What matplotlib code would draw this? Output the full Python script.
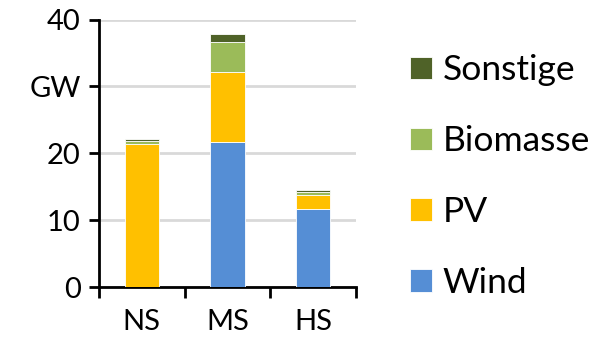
import matplotlib.pyplot as plt
import numpy as np

plt.rcParams["font.family"] = ["Lato", "DejaVu Sans"]

categories = ["NS", "MS", "HS"]
wind = [0.0, 21.75, 11.75]
pv = [21.4, 10.45, 2.0]
biomasse = [0.4, 4.4, 0.4]
sonstige = [0.4, 1.2, 0.4]

series = [
    ("Wind", wind, "#558ED5"),
    ("PV", pv, "#FFC000"),
    ("Biomasse", biomasse, "#9BBB59"),
    ("Sonstige", sonstige, "#4F6228"),
]

yticks = [0, 10, 20, 30, 40]
ytick_labels = ["0", "10", "20", "GW", "40"]

fig = plt.figure(figsize=(6.1, 3.37), dpi=100)
ax = fig.add_axes([0.162, 0.148, 0.422, 0.794])

x = np.arange(len(categories))
bottom = np.zeros(len(categories))
handles = []
for name, vals, color in series:
    bars = ax.bar(x, vals, width=0.4, bottom=bottom, color=color,
                  edgecolor="white", linewidth=0.6, label=name, zorder=3)
    handles.append(bars)
    bottom += np.array(vals)

ax.set_xlim(-0.5, 2.5)
ax.set_ylim(0, 40)
ax.set_yticks(yticks)
ax.set_yticklabels(ytick_labels)
ax.yaxis.grid(True, color="#d9d9d9", linewidth=2, zorder=0)
ax.set_axisbelow(True)

# category labels centred, tick marks on the boundaries
ax.set_xticks(x)
ax.set_xticklabels(categories)
ax.set_xticks([-0.5, 0.5, 1.5, 2.5], minor=True)
ax.tick_params(axis="x", which="major", length=0, pad=16, labelsize=21)
ax.tick_params(axis="x", which="minor", length=8, width=2, direction="out")
ax.tick_params(axis="y", length=7, width=2, direction="out", pad=6, labelsize=21)

for side in ("top", "right"):
    ax.spines[side].set_visible(False)
for side in ("left", "bottom"):
    ax.spines[side].set_linewidth(2)
    ax.spines[side].set_color("black")

fig.legend(handles[::-1], [s[0] for s in series][::-1],
           loc="center left", bbox_to_anchor=(0.672, 0.475),
           frameon=False, fontsize=25.5, handlelength=0.62, handleheight=0.62,
           handletextpad=0.3, labelspacing=1.1, borderpad=0, borderaxespad=0)

fig.savefig("out.png", dpi=100)
